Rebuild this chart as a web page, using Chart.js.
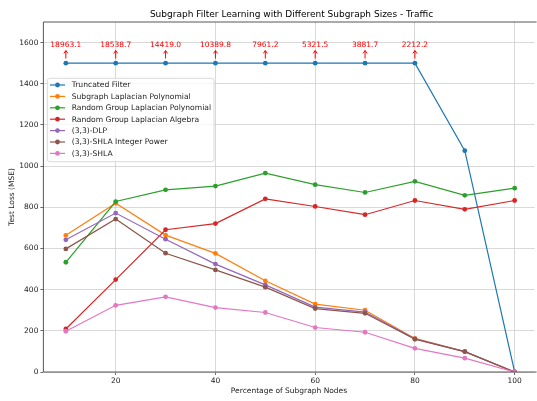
<!DOCTYPE html>
<html>
<head>
<meta charset="utf-8">
<script src="https://cdn.jsdelivr.net/npm/chart.js@4/dist/chart.umd.min.js"></script>
<style>
html,body{margin:0;padding:0;background:#fff;}
#wrap{position:relative;width:537px;height:401px;}
</style>
</head>
<body>
<div id="wrap"><canvas id="c" width="537" height="401"></canvas></div>
<script>
const subgraphPercent = [10, 20, 30, 40, 50, 60, 70, 80, 90, 100];
const xTickValues = [20, 40, 60, 80, 100];
const yTickValues = [0, 200, 400, 600, 800, 1000, 1200, 1400, 1600];

const seriesNames = [
  "Truncated Filter",
  "Subgraph Laplacian Polynomial",
  "Random Group Laplacian Polynomial",
  "Random Group Laplacian Algebra",
  "(3,3)-DLP",
  "(3,3)-SHLA Integer Power",
  "(3,3)-SHLA"
];
const seriesColors = ["#1f77b4", "#ff7f0e", "#2ca02c", "#d62728", "#9467bd", "#8c564b", "#e377c2"];

// Truncated filter: plotted (clipped) values and the true values annotated above
const truncatedFilter = [1500, 1500, 1500, 1500, 1500, 1500, 1500, 1500, 1075, 0];
const truncatedTrueLabels = ["18963.1", "18538.7", "14419.0", "10389.8", "7961.2", "5321.5", "3881.7", "2212.2"];
const truncatedAnnotX = [10, 20, 30, 40, 50, 60, 70, 80];

const subgraphLaplacianPoly = [664, 820, 665, 576, 443, 330, 300, 163, 99, 0];
const randomGroupLaplacianPoly = [533, 828, 885, 903, 966, 910, 872, 926, 858, 893];
const randomGroupLaplacianAlg = [209, 449, 691, 721, 841, 804, 764, 833, 790, 833];
const dlp33 = [642, 772, 645, 524, 423, 315, 291, 161, 99, 0];
const shlaIntPower33 = [598, 743, 577, 496, 412, 308, 285, 159, 99, 0];
const shla33 = [198, 324, 365, 313, 289, 216, 193, 115, 67, 0];

const seriesValues = [truncatedFilter, subgraphLaplacianPoly, randomGroupLaplacianPoly,
  randomGroupLaplacianAlg, dlp33, shlaIntPower33, shla33];

const FONT = "DejaVu Sans";
const FS = 7.5;
const TITLE = "Subgraph Filter Learning with Different Subgraph Sizes - Traffic";

const datasets = seriesNames.map((name, i) => ({
  label: name,
  data: subgraphPercent.map((x, j) => ({x: x, y: seriesValues[i][j]})),
  borderColor: seriesColors[i],
  backgroundColor: seriesColors[i],
  borderWidth: 1.2,
  pointRadius: 2.4,
  pointBorderWidth: 0,
  pointHoverRadius: 2.4,
  tension: 0,
  fill: false,
  order: seriesNames.length - i
}));

const decor = {
  id: 'decor',
  afterDraw(chart) {
    const ctx = chart.ctx;
    const a = chart.chartArea;
    const xs = chart.scales.x, ys = chart.scales.y;
    ctx.save();
    // spines
    ctx.strokeStyle = '#444';
    ctx.lineWidth = 0.9;
    ctx.beginPath();
    ctx.moveTo(a.left, a.bottom); ctx.lineTo(a.left, a.top); ctx.lineTo(a.right + 2, a.top);
    ctx.moveTo(a.left, a.bottom); ctx.lineTo(a.right + 2, a.bottom);
    ctx.stroke();

    // title
    ctx.fillStyle = '#000';
    ctx.font = '9px "' + FONT + '"';
    ctx.textAlign = 'center';
    ctx.textBaseline = 'middle';
    ctx.fillText(TITLE, 291.5, 14.3);

    // annotations
    ctx.fillStyle = '#ff0000';
    ctx.strokeStyle = '#ff0000';
    ctx.font = FS + 'px "' + FONT + '"';
    ctx.lineWidth = 1;
    truncatedAnnotX.forEach((xv, k) => {
      const px = xs.getPixelForValue(xv);
      const py = ys.getPixelForValue(truncatedFilter[k]);
      ctx.fillText(truncatedTrueLabels[k], px, py - 18.6);
      ctx.beginPath();
      ctx.moveTo(px, py - 4.6);
      ctx.lineTo(px, py - 12.6);
      ctx.moveTo(px - 2, py - 9.8);
      ctx.lineTo(px, py - 12.6);
      ctx.lineTo(px + 2, py - 9.8);
      ctx.stroke();
    });

    // legend
    const L = 47.3, T = 78.3, R = 214, B = 161.7, rad = 2.5;
    ctx.beginPath();
    ctx.moveTo(L + rad, T);
    ctx.lineTo(R - rad, T); ctx.quadraticCurveTo(R, T, R, T + rad);
    ctx.lineTo(R, B - rad); ctx.quadraticCurveTo(R, B, R - rad, B);
    ctx.lineTo(L + rad, B); ctx.quadraticCurveTo(L, B, L, B - rad);
    ctx.lineTo(L, T + rad); ctx.quadraticCurveTo(L, T, L + rad, T);
    ctx.closePath();
    ctx.fillStyle = 'rgba(255,255,255,0.8)';
    ctx.fill();
    ctx.strokeStyle = '#d0d0d0';
    ctx.lineWidth = 0.8;
    ctx.stroke();
    ctx.textAlign = 'left';
    ctx.textBaseline = 'middle';
    ctx.font = '7.6px "' + FONT + '"';
    seriesNames.forEach((name, i) => {
      const cy = 85 + i * 11.4;
      ctx.strokeStyle = seriesColors[i];
      ctx.lineWidth = 1.2;
      ctx.beginPath(); ctx.moveTo(50, cy); ctx.lineTo(65, cy); ctx.stroke();
      ctx.fillStyle = seriesColors[i];
      ctx.beginPath(); ctx.arc(57.5, cy, 2.4, 0, Math.PI * 2); ctx.fill();
      ctx.fillStyle = '#222';
      ctx.fillText(name, 71.7, cy + 0.5);
    });
    ctx.restore();
  }
};

new Chart(document.getElementById('c'), {
  type: 'line',
  data: {datasets: datasets},
  options: {
    responsive: false,
    animation: false,
    devicePixelRatio: 1,
    layout: {padding: {top: 22, right: 0, left: 0, bottom: 0}},
    plugins: {legend: {display: false}, title: {display: false}, tooltip: {enabled: false}},
    scales: {
      x: {
        type: 'linear',
        min: 5.5,
        max: 104,
        afterBuildTicks: s => { s.ticks = xTickValues.map(v => ({value: v})); },
        afterFit: s => { s.height = 29; },
        grid: {color: '#cfcfcf', lineWidth: 0.8, tickLength: 3, tickColor: '#444'},
        border: {display: false},
        ticks: {font: {family: FONT, size: FS}, color: '#222', padding: 2, maxRotation: 0, callback: v => String(v)},
        title: {display: true, text: 'Percentage of Subgraph Nodes', font: {family: FONT, size: FS}, color: '#222', padding: {top: 0, bottom: 5}}
      },
      y: {
        type: 'linear',
        min: 0,
        max: 1700,
        afterBuildTicks: s => { s.ticks = yTickValues.map(v => ({value: v})); },
        afterFit: s => { s.width = 43.4; },
        grid: {color: '#cfcfcf', lineWidth: 0.8, tickLength: 3, tickColor: '#444'},
        border: {display: false},
        ticks: {font: {family: FONT, size: FS}, color: '#222', padding: 2, callback: v => String(v)},
        title: {display: true, text: 'Test Loss (MSE)', font: {family: FONT, size: FS}, color: '#222', padding: {top: 7.5, bottom: 0}}
      }
    }
  },
  plugins: [decor]
});
</script>
</body>
</html>
